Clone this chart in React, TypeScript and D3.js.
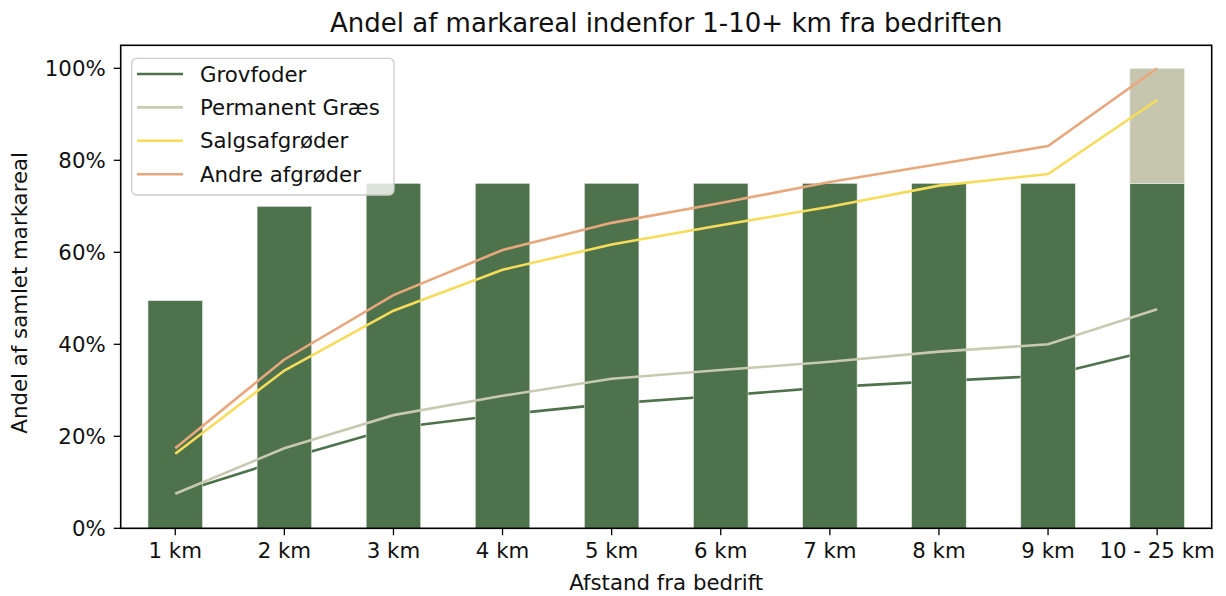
import React from "react";
import * as d3 from "d3";

const categories = ["1 km", "2 km", "3 km", "4 km", "5 km", "6 km", "7 km", "8 km", "9 km", "10 - 25 km"];
const barGreen = [49.5, 70, 75, 75, 75, 75, 75, 75, 75, 75];
const barBeige = [0, 0, 0, 0, 0, 0, 0, 0, 0, 25];
const grovfoder = [7.5, 15, 21.8, 24.7, 27.1, 28.8, 30.7, 32, 33.2, 39];
const permanentGraes = [7.5, 17.4, 24.6, 28.8, 32.5, 34.4, 36.2, 38.4, 40, 47.6];
const salgsafgroeder = [16.2, 34.3, 47.3, 56.2, 61.7, 65.9, 69.9, 74.5, 77, 93.1];
const andreAfgroeder = [17.4, 36.7, 50.7, 60.5, 66.4, 70.7, 75.3, 79.2, 83.1, 100];
const yTicks = [0, 20, 40, 60, 80, 100];

const C_GREEN = "#4e724b";
const C_BEIGE = "#c6c6af";
const C_PG = "#c9c9b1";
const C_YELLOW = "#f7dc5c";
const C_ORANGE = "#e8a87d";

const FONT = "DejaVu Sans";
const FS = 21.3;

export default function App() {
  const W = 1226, H = 596;
  const left = 120.7, right = 1211.7, top = 45.3, bottom = 528.3;
  const x = d3.scaleLinear().domain([-0.5, 9.5]).range([left, right]);
  const y = d3.scaleLinear().domain([0, 105]).range([bottom, top]);
  const bw = x(0.5) - x(0);
  const idx = categories.map((_, i) => i);
  const line = (vals: number[]) =>
    d3.line<number>().x((_, i) => x(i)).y((v) => y(v))(vals) || "";

  const series = [
    { name: "Grovfoder", color: C_GREEN, vals: grovfoder },
    { name: "Permanent Græs", color: C_PG, vals: permanentGraes },
    { name: "Salgsafgrøder", color: C_YELLOW, vals: salgsafgroeder },
    { name: "Andre afgrøder", color: C_ORANGE, vals: andreAfgroeder },
  ];
  const lw = 2.6;

  return (
    <svg width={W} height={H} style={{ position: "absolute", left: 0, top: 0, background: "#fff" }} fontFamily={FONT}>
      {/* Grovfoder line below bars */}
      <path d={line(grovfoder)} fill="none" stroke={C_GREEN} strokeWidth={lw} />
      {/* bars */}
      {idx.map((i) => (
        <g key={i}>
          <rect x={x(i) - bw / 2} y={y(barGreen[i])} width={bw} height={y(0) - y(barGreen[i])} fill={C_GREEN} stroke="#e8ece6" strokeWidth={0.6} />
          {barBeige[i] > 0 && (
            <rect x={x(i) - bw / 2} y={y(barGreen[i] + barBeige[i])} width={bw} height={y(barGreen[i]) - y(barGreen[i] + barBeige[i])} fill={C_BEIGE} stroke="#eeeee6" strokeWidth={0.6} />
          )}
        </g>
      ))}
      {/* other lines */}
      {series.slice(1).map((s) => (
        <path key={s.name} d={line(s.vals)} fill="none" stroke={s.color} strokeWidth={lw} />
      ))}
      {/* spines */}
      <rect x={left} y={top} width={right - left} height={bottom - top} fill="none" stroke="#000" strokeWidth={1.6} />
      {/* y ticks */}
      {yTicks.map((t) => (
        <g key={t}>
          <line x1={left - 7} x2={left} y1={y(t)} y2={y(t)} stroke="#000" strokeWidth={1.3} />
          <text x={left - 15} y={y(t)} dy="0.36em" textAnchor="end" fontSize={FS} fill="#111">{`${t}%`}</text>
        </g>
      ))}
      {/* x ticks */}
      {idx.map((i) => (
        <g key={i}>
          <line x1={x(i)} x2={x(i)} y1={bottom} y2={bottom + 7} stroke="#000" strokeWidth={1.3} />
          <text x={x(i)} y={558} textAnchor="middle" fontSize={FS} fill="#111">{categories[i]}</text>
        </g>
      ))}
      {/* axis labels */}
      <text x={(left + right) / 2} y={590} textAnchor="middle" fontSize={FS} fill="#111">Afstand fra bedrift</text>
      <text transform={`translate(27,${(top + bottom) / 2 + 6}) rotate(-90)`} textAnchor="middle" fontSize={FS} fill="#111">Andel af samlet markareal</text>
      {/* title */}
      <text x={(left + right) / 2} y={32} textAnchor="middle" fontSize={26} fill="#111">Andel af markareal indenfor 1-10+ km fra bedriften</text>
      {/* legend */}
      <g>
        <rect x={131.7} y={58.3} width={262.3} height={136.7} rx={5} fill="#fff" fillOpacity={0.8} stroke="#cccccc" strokeWidth={1.3} />
        {series.map((s, k) => {
          const cy = 74 + k * 33.4;
          return (
            <g key={s.name}>
              <line x1={137} x2={183} y1={cy} y2={cy} stroke={s.color} strokeWidth={lw} />
              <text x={200} y={cy} dy="0.36em" fontSize={FS} fill="#111">{s.name}</text>
            </g>
          );
        })}
      </g>
    </svg>
  );
}
